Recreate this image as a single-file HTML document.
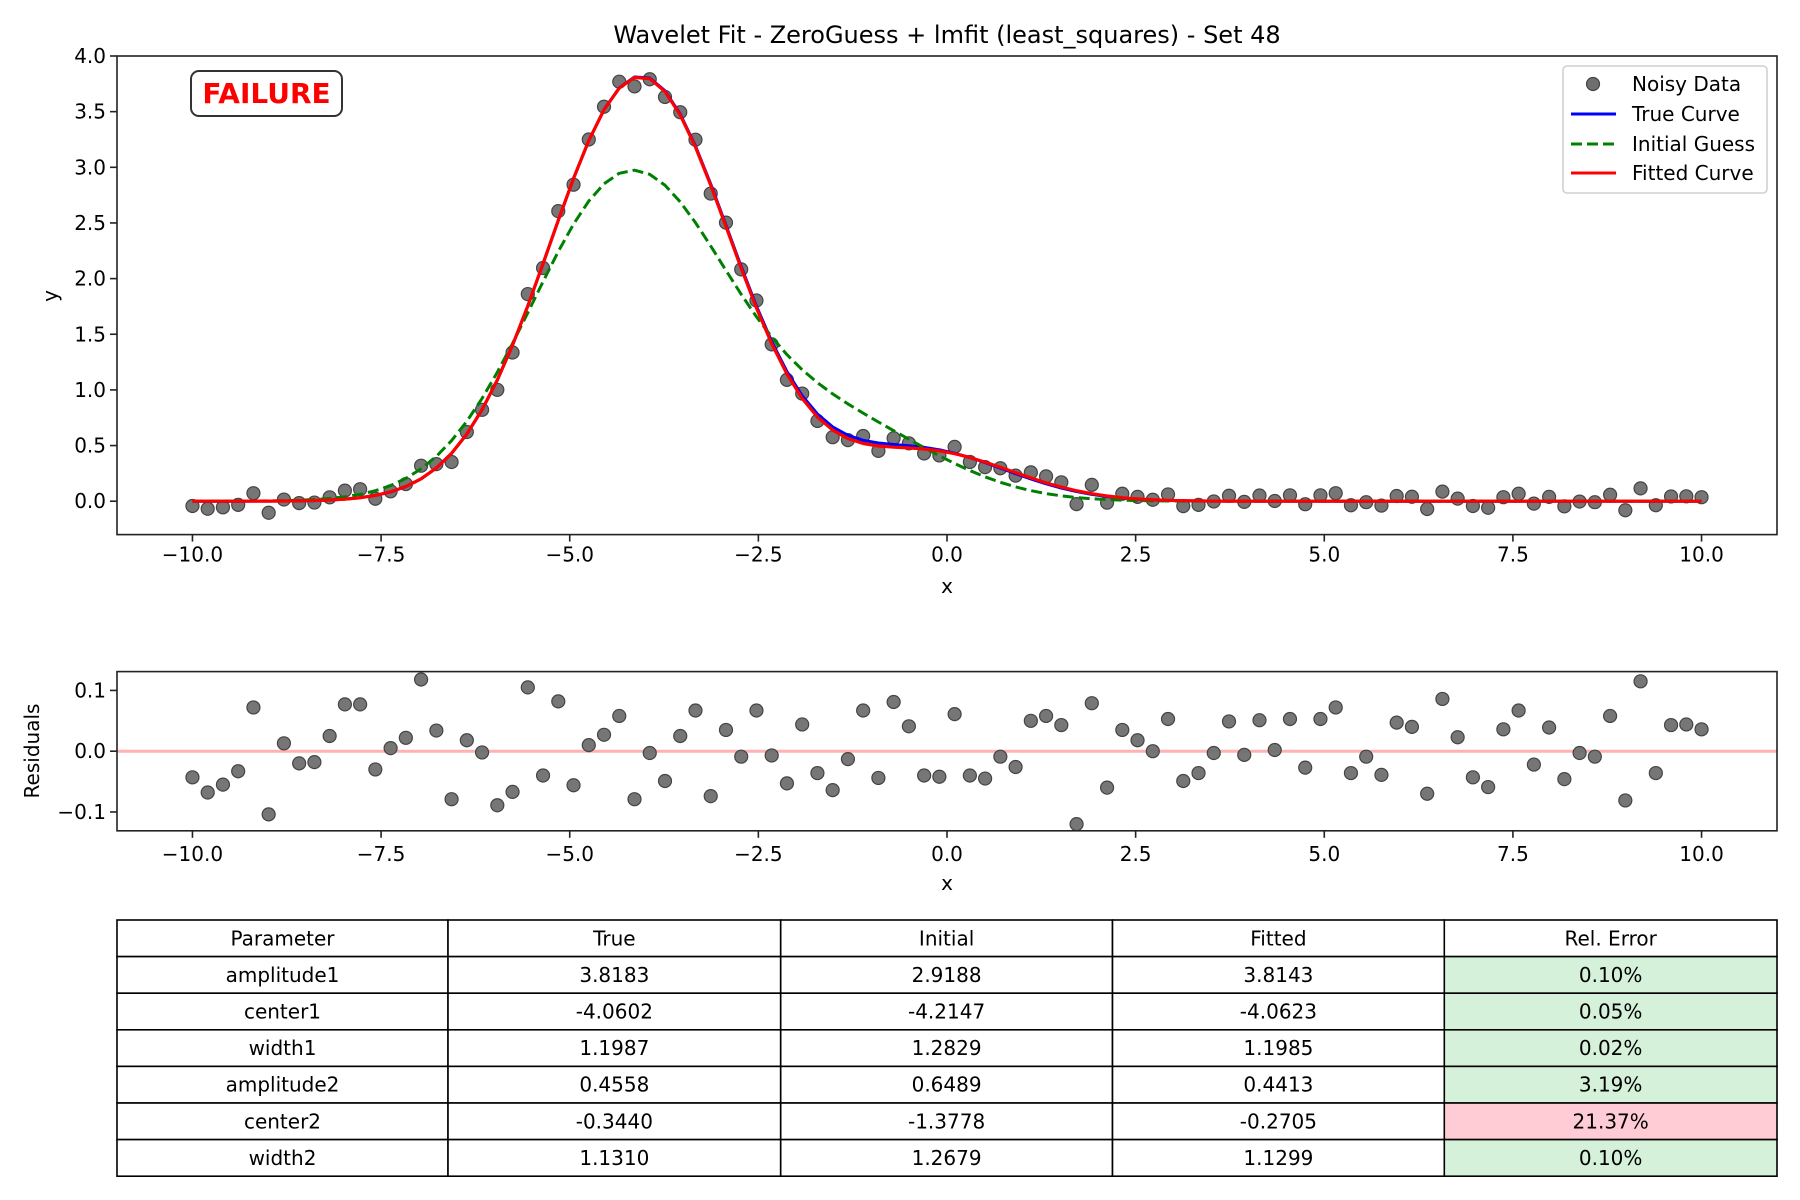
<!DOCTYPE html>
<html><head><meta charset="utf-8"><style>
html,body{margin:0;padding:0;background:#fff;}
svg{display:block;font-family:"DejaVu Sans","Liberation Sans",sans-serif;}
</style></head><body>
<svg id="fig" width="1800" height="1200" viewBox="0 0 1800 1200" xmlns="http://www.w3.org/2000/svg">
<rect width="1800" height="1200" fill="#fff"/>
<text x="947" y="43" font-size="24" text-anchor="middle">Wavelet Fit - ZeroGuess + lmfit (least_squares) - Set 48</text>
<g id="main"></g>
<g id="resid"></g>
<g id="table"></g>
</svg>
<script>
const NS="http://www.w3.org/2000/svg";
// ---- data ----
const paramNames=["amplitude1","center1","width1","amplitude2","center2","width2"];
const trueParams=[3.8183,-4.0602,1.1987,0.4558,-0.3440,1.1310];
const initParams=[2.9188,-4.2147,1.2829,0.6489,-1.3778,1.2679];
const fitParams=[3.8143,-4.0623,1.1985,0.4413,-0.2705,1.1299];
const relErrors=["0.10%","0.05%","0.02%","3.19%","21.37%","0.10%"];
const xStart=-10, xEnd=10, nPts=100;
const noisyY=[-0.043,-0.068,-0.055,-0.033,0.072,-0.104,0.015,-0.017,-0.012,0.035,
0.095,0.108,0.022,0.089,0.154,0.319,0.333,0.352,0.622,0.821,
1.001,1.336,1.861,2.095,2.606,2.844,3.250,3.544,3.769,3.727,
3.791,3.632,3.495,3.248,2.764,2.503,2.083,1.803,1.409,1.090,
0.967,0.721,0.575,0.549,0.586,0.452,0.566,0.520,0.429,0.411,
0.488,0.353,0.306,0.296,0.230,0.259,0.223,0.170,-0.026,0.147,
-0.013,0.067,0.039,0.013,0.061,-0.044,-0.033,-0.002,0.049,-0.006,
0.051,0.002,0.053,-0.027,0.053,0.072,-0.036,-0.009,-0.039,0.047,
0.040,-0.070,0.086,0.023,-0.043,-0.059,0.036,0.067,-0.022,0.039,
-0.046,-0.003,-0.009,0.058,-0.081,0.115,-0.036,0.043,0.044,0.036];
const residuals=[-0.043,-0.068,-0.055,-0.033,0.072,-0.104,0.013,-0.020,-0.018,0.025,
0.077,0.077,-0.030,0.005,0.022,0.118,0.034,-0.079,0.018,-0.002,
-0.089,-0.067,0.105,-0.040,0.082,-0.056,0.010,0.027,0.058,-0.079,
-0.003,-0.049,0.025,0.067,-0.074,0.035,-0.009,0.067,-0.007,-0.053,
0.044,-0.036,-0.064,-0.013,0.067,-0.044,0.081,0.041,-0.040,-0.042,
0.061,-0.040,-0.045,-0.009,-0.026,0.050,0.058,0.043,-0.120,0.079,
-0.060,0.035,0.018,0.000,0.053,-0.049,-0.036,-0.003,0.049,-0.006,
0.051,0.002,0.053,-0.027,0.053,0.072,-0.036,-0.009,-0.039,0.047,
0.040,-0.070,0.086,0.023,-0.043,-0.059,0.036,0.067,-0.022,0.039,
-0.046,-0.003,-0.009,0.058,-0.081,0.115,-0.036,0.043,0.044,0.036];
const xTicks=[-10,-7.5,-5,-2.5,0,2.5,5,7.5,10];
const xTickLabels=["\u221210.0","\u22127.5","\u22125.0","\u22122.5","0.0","2.5","5.0","7.5","10.0"];
const yTicks=[0,0.5,1,1.5,2,2.5,3,3.5,4];
const yTickLabels=["0.0","0.5","1.0","1.5","2.0","2.5","3.0","3.5","4.0"];
const rTicks=[-0.1,0,0.1];
const rTickLabels=["\u22120.1","0.0","0.1"];

// ---- helpers ----
function el(tag,attrs,parent){const e=document.createElementNS(NS,tag);for(const k in attrs)e.setAttribute(k,attrs[k]);parent.appendChild(e);return e;}
const xs=[];for(let i=0;i<nPts;i++)xs.push(xStart+(xEnd-xStart)*i/(nPts-1));
function model(p,x){return p[0]*Math.exp(-Math.pow(x-p[1],2)/(2*p[2]*p[2]))+p[3]*Math.exp(-Math.pow(x-p[4],2)/(2*p[5]*p[5]));}

// axis geometry
const L=117,R=1777;
const xMin=-11,xMax=11;
function X(v){return L+(v-xMin)/(xMax-xMin)*(R-L);}
const mT=56,mB=534.6,yMin=-0.3,yMax=4.0;
function Y(v){return mB-(v-yMin)/(yMax-yMin)*(mB-mT);}
const rT=671.6,rB=830.8,rMin=-0.131,rMax=0.131;
function RY(v){return rB-(v-rMin)/(rMax-rMin)*(rB-rT);}

// ---- main plot ----
const main=document.getElementById('main');
// curves
function drawCurve(params,color,width,dash,name){
  let d="";xs.forEach((x,i)=>{d+=(i?"L":"M")+X(x).toFixed(2)+","+Y(model(params,x)).toFixed(2);});
  const p=el('path',{d:d,fill:"none",stroke:color,"stroke-width":width,"stroke-linejoin":"round"},main);
  if(dash)p.setAttribute('stroke-dasharray',dash);
  
  
}
// points
const ptsG=el('g',{},main);


xs.forEach((x,i)=>{
  const c=el('circle',{cx:X(x).toFixed(2),cy:Y(noisyY[i]).toFixed(2),r:6.5,fill:"#6f6f6f","fill-opacity":0.95,stroke:"#444","stroke-width":1.2},ptsG);
  
  
});
drawCurve(trueParams,"#0000ff",3,null,"true-curve");
drawCurve(initParams,"#008000",3,"11,5","initial-guess-curve");
drawCurve(fitParams,"#ff0000",3.2,null,"fitted-curve");
// frame
const mf=el('rect',{x:L,y:mT,width:R-L,height:mB-mT,fill:"none",stroke:"#222","stroke-width":1.6},main);


xTicks.forEach((t,i)=>{
  el('line',{x1:X(t),x2:X(t),y1:mB,y2:mB+7,stroke:"#222","stroke-width":1.6},main);
  const tx=el('text',{x:X(t),y:mB+27,"font-size":20,"text-anchor":"middle"},main);
  tx.textContent=xTickLabels[i];
  
  
});
yTicks.forEach((t,i)=>{
  el('line',{x1:L-7,x2:L,y1:Y(t),y2:Y(t),stroke:"#222","stroke-width":1.6},main);
  const tx=el('text',{x:L-11,y:Y(t)+7,"font-size":20,"text-anchor":"end"},main);
  tx.textContent=yTickLabels[i];
  
  
});
{
  const t=el('text',{x:947,y:593,"font-size":20,"text-anchor":"middle"},main);t.textContent="x";
  
  
  const t2=el('text',{x:0,y:0,"font-size":20,"text-anchor":"middle",transform:"translate(57,296) rotate(-90)"},main);t2.textContent="y";
  
  
}
// failure badge
{
  const g=el('g',{},main);
  
  
  el('rect',{x:191,y:71,width:151,height:45,rx:8,fill:"#fff",stroke:"#333","stroke-width":2},g);
  const t=el('text',{x:266.5,y:103,"font-size":28,"font-weight":"bold",fill:"#ff0000","text-anchor":"middle"},g);
  t.textContent="FAILURE";
}
// legend
{
  const g=el('g',{},main);
  
  
  el('rect',{x:1563,y:66,width:204,height:127,rx:4,fill:"#fff","fill-opacity":0.85,stroke:"#d0d0d0","stroke-width":1.6},g);
  const items=[["Noisy Data",84,"pt"],["True Curve",114,"#0000ff"],["Initial Guess",144,"#008000"],["Fitted Curve",173,"#ff0000"]];
  items.forEach(it=>{
    const e=el('g',{},g);
    
    
    if(it[2]==="pt")el('circle',{cx:1593,cy:it[1],r:6.5,fill:"#6f6f6f",stroke:"#444","stroke-width":1.2},e);
    else{const ln=el('line',{x1:1571,x2:1616,y1:it[1],y2:it[1],stroke:it[2],"stroke-width":3},e);if(it[0]==="Initial Guess")ln.setAttribute('stroke-dasharray','11,5');}
    const t=el('text',{x:1632,y:it[1]+7,"font-size":20},e);t.textContent=it[0];
  });
}

// ---- residual plot ----
const rg=document.getElementById('resid');
el('line',{x1:L,x2:R,y1:RY(0),y2:RY(0),stroke:"#ff0000","stroke-opacity":0.3,"stroke-width":3},rg);
xs.forEach((x,i)=>{
  const c=el('circle',{cx:X(x).toFixed(2),cy:RY(residuals[i]).toFixed(2),r:6.5,fill:"#6f6f6f","fill-opacity":0.95,stroke:"#444","stroke-width":1.2},rg);
  
  
});
{
const f=el('rect',{x:L,y:rT,width:R-L,height:rB-rT,fill:"none",stroke:"#222","stroke-width":1.6},rg);


}
xTicks.forEach((t,i)=>{
  el('line',{x1:X(t),x2:X(t),y1:rB,y2:rB+7,stroke:"#222","stroke-width":1.6},rg);
  const tx=el('text',{x:X(t),y:rB+30,"font-size":20,"text-anchor":"middle"},rg);
  tx.textContent=xTickLabels[i];
  
  
});
rTicks.forEach((t,i)=>{
  el('line',{x1:L-7,x2:L,y1:RY(t),y2:RY(t),stroke:"#222","stroke-width":1.6},rg);
  const tx=el('text',{x:L-11,y:RY(t)+7,"font-size":20,"text-anchor":"end"},rg);
  tx.textContent=rTickLabels[i];
  
  
});
{
  const t=el('text',{x:947,y:890,"font-size":20,"text-anchor":"middle"},rg);t.textContent="x";
  
  
  const t2=el('text',{x:0,y:0,"font-size":20,"text-anchor":"middle",transform:"translate(39,751) rotate(-90)"},rg);t2.textContent="Residuals";
  
  
}

// ---- table ----
const tg=document.getElementById('table');
const colX=[117,448,780.7,1112.5,1444.3,1777];
const tTop=920,rowH=36.6;
const headers=["Parameter","True","Initial","Fitted","Rel. Error"];
const rows=[headers];
paramNames.forEach((n,i)=>rows.push([n,trueParams[i].toFixed(4),initParams[i].toFixed(4),fitParams[i].toFixed(4),relErrors[i]]));
rows.forEach((row,r)=>{
  row.forEach((v,c)=>{
    let fill="#fff";
    if(r>0&&c===4)fill=(parseFloat(v)>5)?"#ffccd5":"#d5f1da";
    const cell=el('g',{},tg);
    
    
    el('rect',{x:colX[c],y:tTop+r*rowH,width:colX[c+1]-colX[c],height:rowH,fill:fill,stroke:"#000","stroke-width":1.6},cell);
    const t=el('text',{x:(colX[c]+colX[c+1])/2,y:tTop+r*rowH+rowH/2+7,"font-size":20,"text-anchor":"middle"},cell);
    t.textContent=v;
  });
});
</script>
</body></html>
